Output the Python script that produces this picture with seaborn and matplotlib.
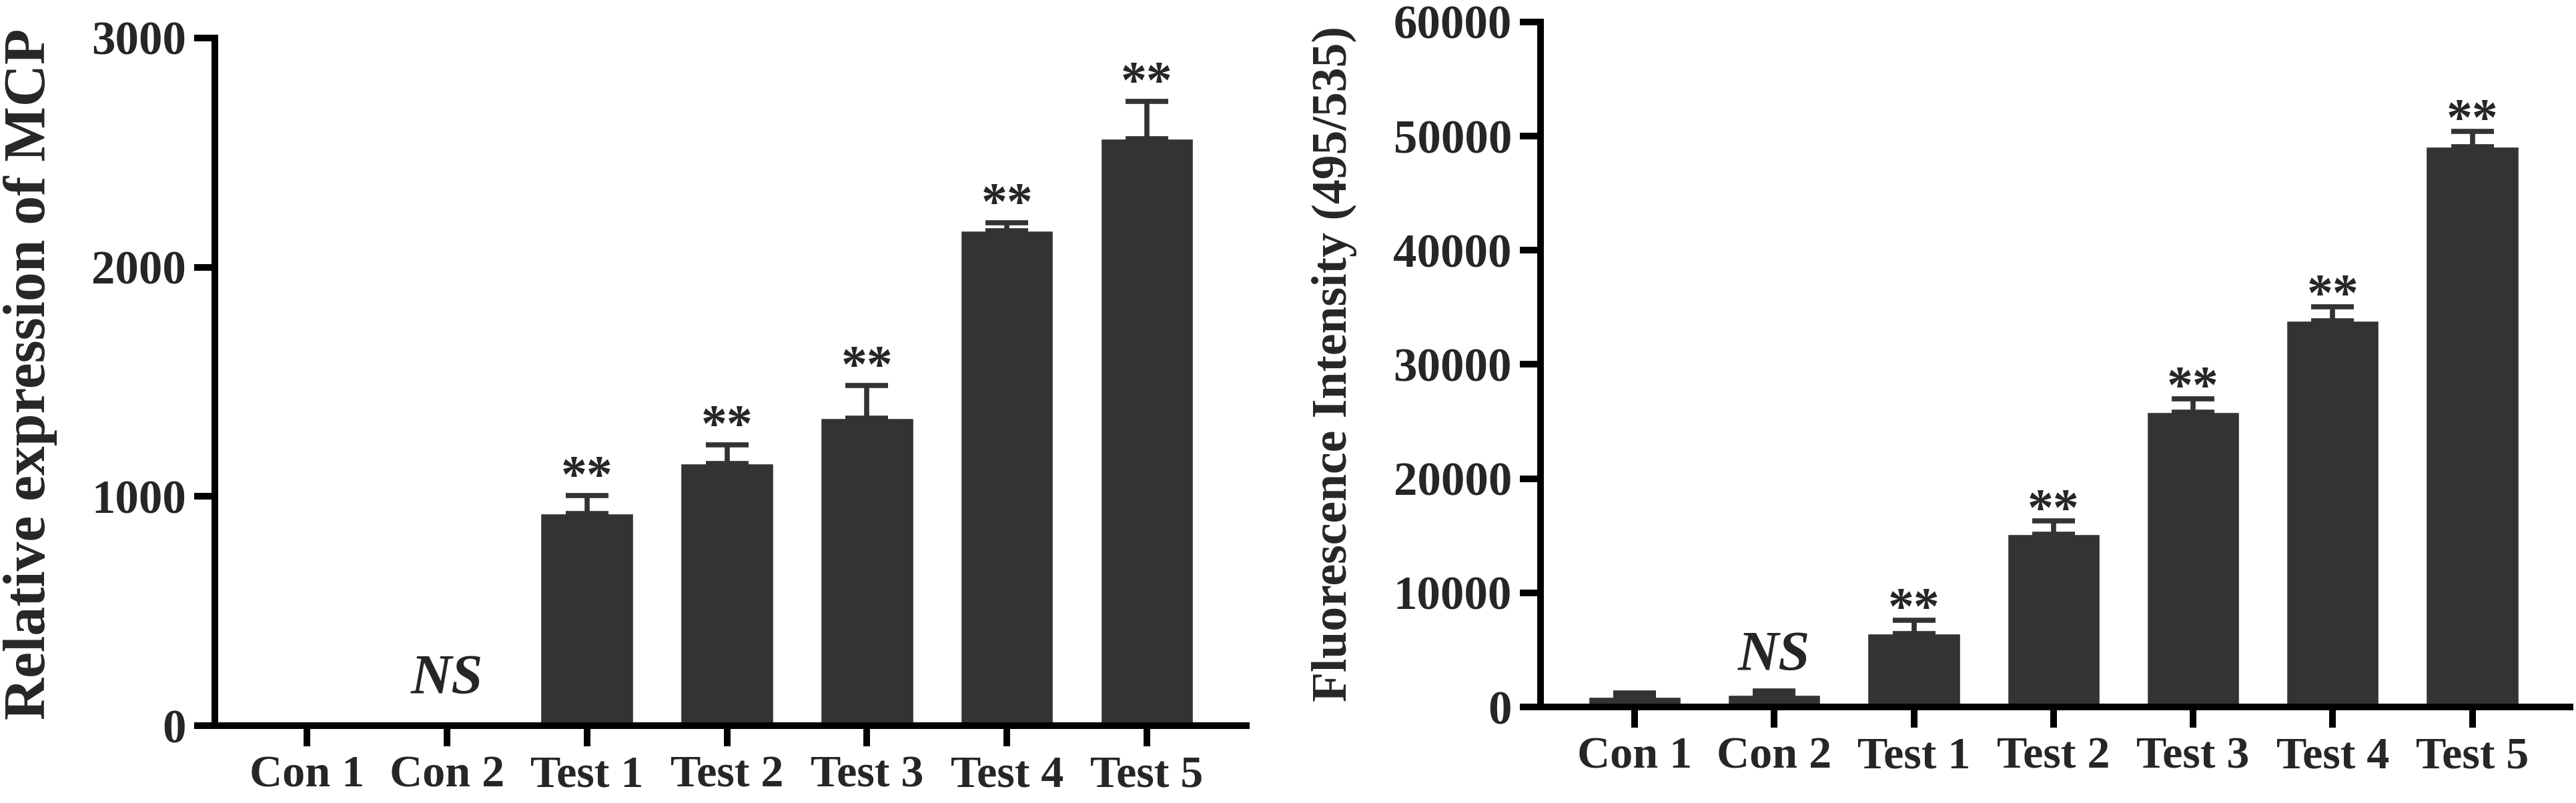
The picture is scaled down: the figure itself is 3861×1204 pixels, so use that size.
import numpy as np
import pandas as pd
import matplotlib
matplotlib.use("Agg")
import matplotlib.pyplot as plt
import seaborn as sns

groups = ["Con 1", "Con 2", "Test 1", "Test 2", "Test 3", "Test 4", "Test 5"]

mcp_mean = [0, 0, 925, 1145, 1340, 2160, 2560]
mcp_sd = [0, 0, 80, 80, 145, 35, 165]
mcp_marks = ["", "NS", "**", "**", "**", "**", "**"]

fluo_mean = [900, 1080, 6450, 15150, 25800, 33800, 49100]
fluo_sd = [310, 350, 1170, 1130, 1200, 1250, 1300]
fluo_marks = ["", "NS", "**", "**", "**", "**", "**"]

sns.set_style("ticks")
plt.rcParams["font.family"] = ["Liberation Serif", "DejaVu Serif"]
plt.rcParams["font.weight"] = "bold"

W, H = 3862, 1204
fig = plt.figure(figsize=(W / 100, H / 100), dpi=100)

bar_col = "#333333"
lw = 7.2


def px_axes(l, r, b, t):
    return fig.add_axes([l / W, 1 - b / H, (r - l) / W, (b - t) / H])


def panel(ax, mean, sd, marks, ymax, step, xlim, star_off, ns_y):
    df = pd.DataFrame({"group": groups, "value": mean})
    sns.barplot(data=df, x="group", y="value", color=bar_col, saturation=1,
                width=0.66, errorbar=None, ax=ax, zorder=2)
    xs = np.arange(len(groups))
    ax.errorbar(xs, mean, yerr=[np.zeros(len(sd)), sd], fmt="none",
                ecolor=bar_col, elinewidth=5.5, capsize=23, capthick=5.5, zorder=2)
    ax.set_xlim(*xlim)
    ax.set_ylim(0, ymax)
    ax.set_yticks(np.arange(0, ymax + 1, step))
    ax.set_xlabel("")
    ax.set_ylabel("")
    sns.despine(ax=ax)
    for s in ["left", "bottom"]:
        ax.spines[s].set_linewidth(lw)
        ax.spines[s].set_color("black")
    ax.tick_params(axis="both", length=22, width=lw, color="black", direction="out")
    ax.tick_params(axis="y", pad=9, labelsize=51)
    ax.tick_params(axis="x", pad=10, labelsize=49)
    for t in ax.get_xticklabels() + ax.get_yticklabels():
        t.set_fontweight("bold")
    for i, m in enumerate(marks):
        if m == "**":
            ax.annotate(m, xy=(i, mean[i] + sd[i]), xytext=(0, star_off),
                        textcoords="offset points", ha="center", va="baseline",
                        fontsize=56, fontweight="bold")
        elif m == "NS":
            ax.text(i, ns_y, m, ha="center", va="baseline", fontsize=61,
                    fontstyle="italic", fontweight="bold")


ax1 = px_axes(322, 1868, 1088, 57)
panel(ax1, mcp_mean, mcp_sd, mcp_marks, 3000, 1000, (-0.658, 6.71), 5, 140)

ax2 = px_axes(2309, 3852, 1060, 33)
panel(ax2, fluo_mean, fluo_sd, fluo_marks, 60000, 10000, (-0.674, 6.70), -3, 3200)

fig.text(67 / W, 1 - 561 / H, "Relative expression of MCP", rotation=90,
         rotation_mode="anchor", ha="center", va="baseline",
         fontsize=63, fontweight="bold")
fig.text(2018 / W, 1 - 545 / H, "Fluorescence Intensity (495/535)", rotation=90,
         rotation_mode="anchor", ha="center", va="baseline",
         fontsize=53, fontweight="bold")

fig.savefig("out.png", dpi=100, facecolor="white")
